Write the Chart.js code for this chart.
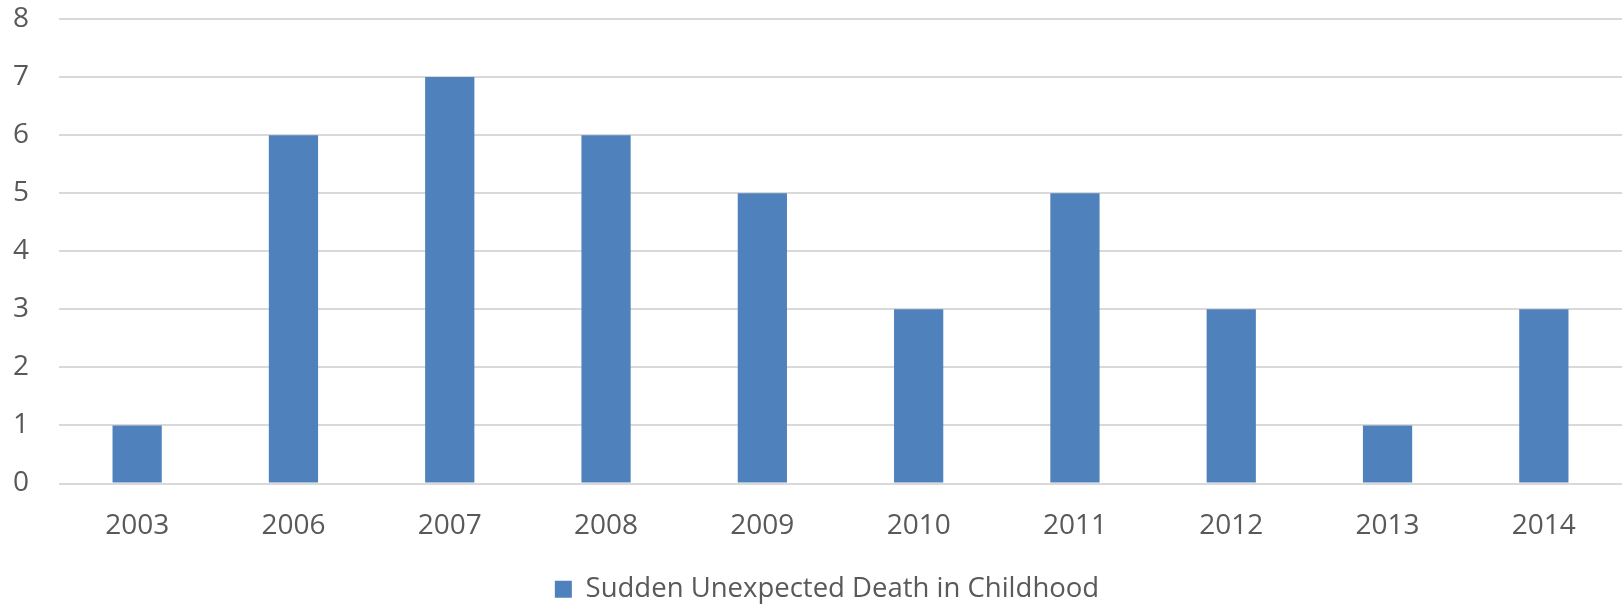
<!DOCTYPE html>
<html>
<head>
<meta charset="utf-8">
<script src="https://cdn.jsdelivr.net/npm/chart.js@4/dist/chart.umd.min.js"></script>
<style>
  html, body { margin: 0; padding: 0; background: #ffffff; }
  #wrap { width: 1623px; height: 604px; position: relative; }
</style>
</head>
<body>
<div id="wrap"><canvas id="c" width="1623" height="604"></canvas></div>
<script>
// Cases per year
const years = ['2003', '2006', '2007', '2008', '2009', '2010', '2011', '2012', '2013', '2014'];
const cases = [1, 6, 7, 6, 5, 3, 5, 3, 1, 3];
const seriesName = 'Sudden Unexpected Death in Childhood';
const yTicks = [0, 1, 2, 3, 4, 5, 6, 7, 8];

const textColor = '#595959';
const fontFamily = '"Open Sans", "Liberation Sans", sans-serif';

// Nudge the legend so it sits centred under the plot rather than the canvas
const legendShift = {
  id: 'legendShift',
  afterLayout(chart) {
    if (chart.legend) {
      chart.legend.left += 16;
      chart.legend.right += 16;
    }
  }
};

new Chart(document.getElementById('c'), {
  type: 'bar',
  data: {
    labels: years,
    datasets: [{
      label: seriesName,
      data: cases,
      backgroundColor: '#4f81bd',
      borderWidth: 0,
      categoryPercentage: 1.0,
      barPercentage: 0.315
    }]
  },
  plugins: [legendShift],
  options: {
    responsive: false,
    animation: false,
    layout: { padding: { top: 19, right: 1, left: 0, bottom: -9 } },
    plugins: {
      tooltip: { enabled: false },
      legend: {
        position: 'bottom',
        labels: {
          color: textColor,
          font: { family: fontFamily, size: 27.5 },
          boxWidth: 17,
          boxHeight: 17,
          padding: 2
        }
      }
    },
    scales: {
      x: {
        grid: { display: false, drawTicks: false },
        border: { display: false },
        ticks: {
          color: textColor,
          font: { family: fontFamily, size: 28 },
          padding: 26
        },
        afterFit: (axis) => { axis.height = 90; }
      },
      y: {
        min: 0,
        max: 8,
        afterBuildTicks: (axis) => { axis.ticks = yTicks.map(v => ({ value: v })); },
        grid: { color: '#d9d9d9', lineWidth: 2, drawTicks: false },
        border: { display: false },
        ticks: {
          color: textColor,
          font: { family: fontFamily, size: 28 },
          padding: 30
        },
        afterFit: (axis) => {
          axis.width = 59;
          axis.paddingTop = 0;
          axis.paddingBottom = 0;
        }
      }
    }
  }
});
</script>
</body>
</html>
